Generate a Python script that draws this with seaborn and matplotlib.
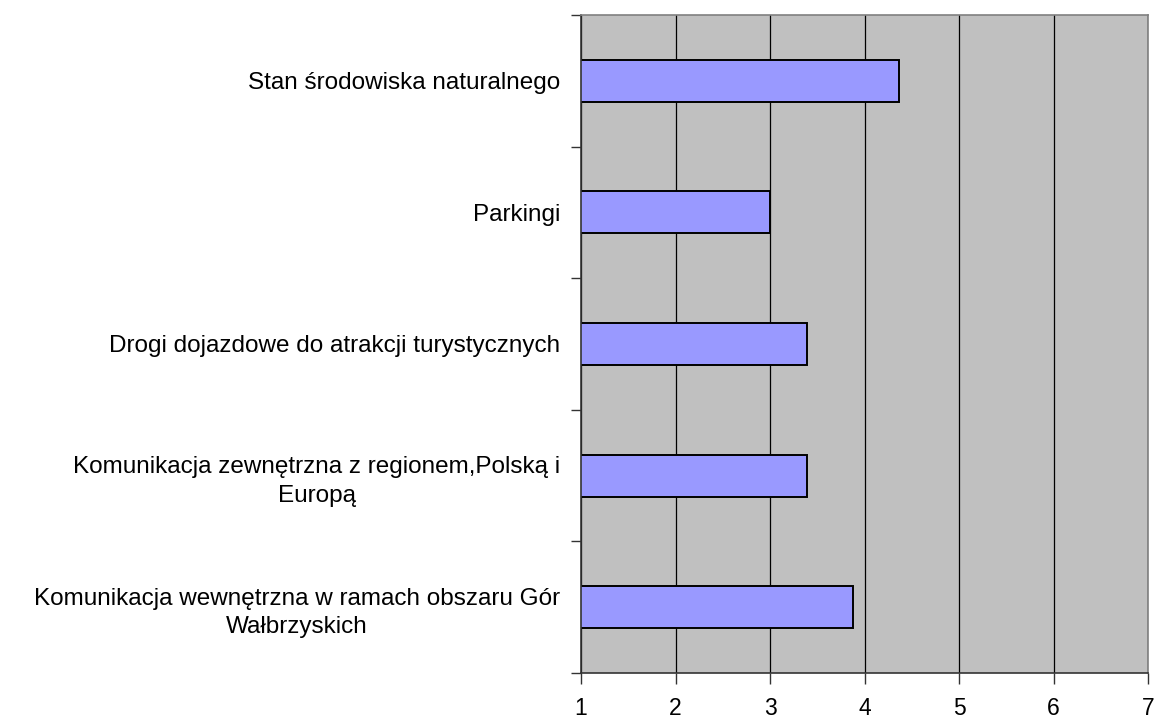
import seaborn as sns
import pandas as pd
import matplotlib.pyplot as plt
import matplotlib.ticker as mticker


categories = [
    "Stan środowiska naturalnego",
    "Parkingi",
    "Drogi dojazdowe do atrakcji turystycznych",
    "Komunikacja zewnętrzna z regionem,Polską i\nEuropą",
    "Komunikacja wewnętrzna w ramach obszaru Gór\nWałbrzyskich",
]
values = [4.37, 3.0, 3.39, 3.39, 3.88]
x_ticks = [1, 2, 3, 4, 5, 6, 7]


def main():
    sns.set_style("white")
    plt.rcParams['font.family'] = ['Liberation Sans', 'DejaVu Sans']

    df = pd.DataFrame({"category": categories, "value": values})

    fig = plt.figure(figsize=(11.57, 7.2), dpi=100)
    ax = fig.add_axes([581 / 1157, 1 - 673 / 720, (1148 - 581) / 1157, (673 - 15) / 720])
    ax.set_facecolor("#C0C0C0")

    sns.barplot(data=df, x="value", y="category", orient="h", width=0.32,
                color="#9999FF", saturation=1, edgecolor="black", linewidth=1.4, ax=ax)

    ax.set_xlim(1, 7)
    ax.set_ylim(4.5, -0.5)
    ax.set_xticks(x_ticks)
    ax.set_xticklabels([str(t) for t in x_ticks], fontsize=16.5, color="black")
    ax.set_xlabel("")
    ax.set_ylabel("")

    # grid behind bars
    ax.set_axisbelow(True)
    ax.grid(axis="x", color="black", linewidth=0.9)
    ax.grid(axis="y", visible=False)

    # category labels without ticks, tick marks between categories
    ax.tick_params(axis="y", which="major", length=0, pad=15, labelsize=17.5, labelcolor="black")
    for lbl in ax.get_yticklabels():
        lbl.set_multialignment("center")
        lbl.set_linespacing(1.4)
    ax.yaxis.set_minor_locator(mticker.FixedLocator([-0.5, 0.5, 1.5, 2.5, 3.5, 4.5]))
    ax.tick_params(axis="y", which="minor", left=True, length=7, width=1, color="#333333")
    ax.tick_params(axis="x", which="major", bottom=True, length=8, width=1, color="#333333", pad=9)

    for side in ["left", "bottom"]:
        ax.spines[side].set_color("#333333")
        ax.spines[side].set_linewidth(1.2)
    for side in ["top", "right"]:
        ax.spines[side].set_color("#808080")
        ax.spines[side].set_linewidth(1.2)

    fig.savefig("out.png", dpi=100)


if __name__ == "__main__":
    main()
